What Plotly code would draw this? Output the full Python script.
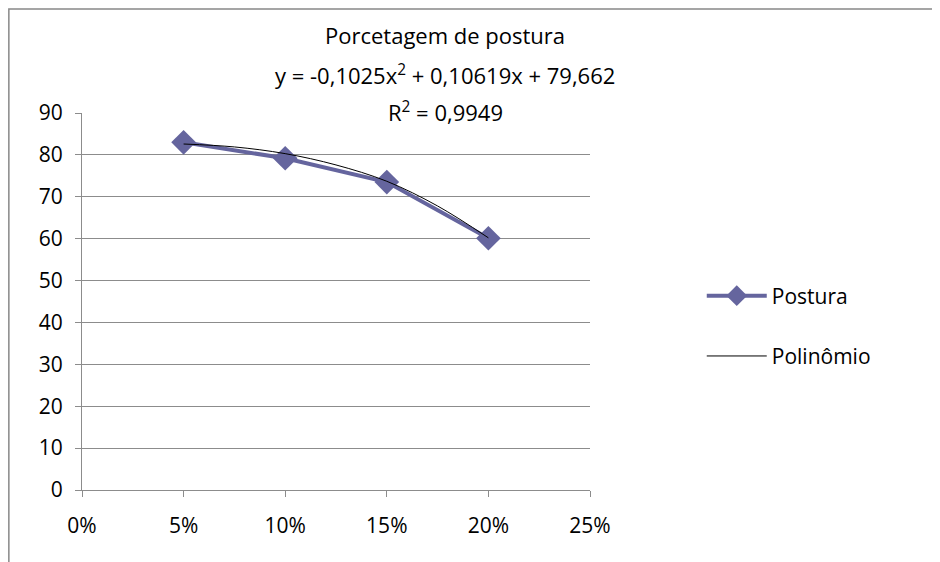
import plotly.graph_objects as go

# --- DADOS ---
PERCENTUAL = [0.05, 0.10, 0.15, 0.20]
POSTURA = [83.0, 79.2, 73.5, 60.1]

# linha de tendência
PERC_TENDENCIA = [0.05, 0.075, 0.10, 0.125, 0.15, 0.175, 0.20]
POLINOMIO = [82.6, 81.9, 80.3, 77.6, 73.7, 67.8, 60.2]

TITULO = "Porcetagem de postura"
EQUACAO = "y = -0,1025x<sup>2</sup> + 0,10619x + 79,662"
R2 = "R<sup>2</sup> = 0,9949"

COR_SERIE = "#65659E"
COR_GRADE = "#8C8C8C"
FONTE = "Open Sans"

fig = go.Figure()

fig.add_trace(go.Scatter(
    x=PERCENTUAL, y=POSTURA, name="Postura", mode="lines+markers",
    line=dict(color=COR_SERIE, width=4),
    marker=dict(symbol="diamond", size=19, color=COR_SERIE),
    legendgroup="a",
))
fig.add_trace(go.Scatter(
    x=PERC_TENDENCIA, y=POLINOMIO, name="Polinômio", mode="lines",
    line=dict(color="black", width=1), line_shape="spline",
    legendgroup="b",
))

# moldura do gráfico (cortada à direita e embaixo)
fig.add_shape(type="rect", xref="paper", yref="paper",
              x0=-0.144, x1=2, y0=-1, y1=1.276,
              line=dict(color="#888888", width=1.5), layer="below")

for texto, y in [(TITULO, 1.207), (EQUACAO, 1.103), (R2, 1.003)]:
    fig.add_annotation(text=texto, xref="paper", yref="paper",
                       x=0.715, y=y, showarrow=False,
                       xanchor="center", yanchor="middle",
                       font=dict(size=22, color="black", family=FONTE))

fig.update_xaxes(range=[0, 0.25], dtick=0.05, tickformat=".0%",
                 showgrid=False, showline=True, linecolor=COR_GRADE,
                 ticks="outside", ticklen=6, tickcolor=COR_GRADE,
                 ticklabelstandoff=11, zeroline=False,
                 tickfont=dict(size=21, color="black", family=FONTE))
fig.update_yaxes(range=[0, 90], dtick=10, showgrid=True, gridcolor=COR_GRADE,
                 showline=True, linecolor=COR_GRADE, zeroline=False,
                 ticks="outside", ticklen=6, tickcolor=COR_GRADE,
                 ticklabelstandoff=8,
                 tickfont=dict(size=21, color="black", family=FONTE))

fig.update_layout(
    width=940, height=562,
    margin=dict(l=74, r=358, t=105, b=80),
    paper_bgcolor="white", plot_bgcolor="white",
    font=dict(family=FONTE, color="black"),
    showlegend=True,
    legend=dict(x=1.22, y=0.435, xanchor="left", yanchor="middle",
                traceorder="grouped", tracegroupgap=30,
                font=dict(size=21, color="black", family=FONTE),
                itemwidth=60, bgcolor="rgba(0,0,0,0)"),
)

fig.write_html("out.html")
